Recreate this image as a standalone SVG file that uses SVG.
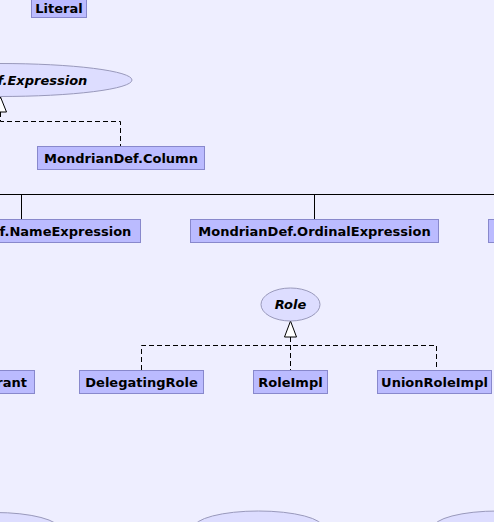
<svg xmlns="http://www.w3.org/2000/svg" width="494" height="522" viewBox="0 0 494 522">
<style>
.bg{fill:#EEEEFF}
.box{fill:#BBBBFF;stroke:#8888CC;stroke-width:1}
.ell{fill:#DDDDFF;stroke:#9999BB;stroke-width:1}
.t{font-family:"DejaVu Sans",sans-serif;font-weight:bold;font-size:13px;fill:#000;text-anchor:middle}
.ti{font-style:italic}
.solid{fill:none;stroke:#000;stroke-width:1}
.dash{fill:none;stroke:#000;stroke-width:1;stroke-dasharray:5,3}
.tri{fill:#FFFFFF;stroke:#000;stroke-width:1}
</style>
<rect class="bg" x="0" y="0" width="494" height="522"/>
<g id="connectors">
  <path class="dash" d="M0.5,112 V121.5 H120.5 V146"/>
  <polygon class="tri" points="0.5,97 -5.5,112 6.5,112"/>
  <path class="solid" d="M0,194.5 H494 M21.5,194.5 V219.5 M314.5,194.5 V219.5"/>
  <path class="dash" d="M290.5,337 V370 M141.5,370 V345.5 H436.5 V370"/>
  <polygon class="tri" points="290.5,321 284.5,337 296.5,337"/>
</g>
<g id="Literal">
  <rect class="box" x="31.5" y="-5.5" width="55" height="23"/>
  <text class="t" x="59" y="12.5" font-size="12.5">Literal</text>
</g>
<g id="MondrianDef.Expression">
  <ellipse class="ell" cx="0" cy="80" rx="132" ry="16.5"/>
  <text class="t ti" x="-2" y="85">MondrianDef.Expression</text>
</g>
<g id="MondrianDef.Column">
  <rect class="box" x="37.5" y="146.5" width="167" height="23"/>
  <text class="t" x="121" y="162.5">MondrianDef.Column</text>
</g>
<g id="MondrianDef.NameExpression">
  <rect class="box" x="-98.5" y="219.5" width="239" height="23"/>
  <text class="t" x="21" y="235.5">MondrianDef.NameExpression</text>
</g>
<g id="MondrianDef.OrdinalExpression">
  <rect class="box" x="190.5" y="219.5" width="248" height="23"/>
  <text class="t" x="314.5" y="235.5">MondrianDef.OrdinalExpression</text>
</g>
<g id="RightBox">
  <rect class="box" x="488.5" y="219.5" width="60" height="23"/>
</g>
<g id="Role">
  <ellipse class="ell" cx="290.5" cy="304.5" rx="29.5" ry="16.5"/>
  <text class="t ti" x="290.5" y="309">Role</text>
</g>
<g id="Grant">
  <rect class="box" x="-40.5" y="370.5" width="75" height="23"/>
  <text class="t" x="27" y="386.5" style="text-anchor:end">rant</text>
</g>
<g id="DelegatingRole">
  <rect class="box" x="79.5" y="370.5" width="124" height="23"/>
  <text class="t" x="141.5" y="386.5">DelegatingRole</text>
</g>
<g id="RoleImpl">
  <rect class="box" x="253.5" y="370.5" width="74" height="23"/>
  <text class="t" x="290.5" y="386.5">RoleImpl</text>
</g>
<g id="UnionRoleImpl">
  <rect class="box" x="377.5" y="370.5" width="114" height="23"/>
  <text class="t" x="434.5" y="386.5">UnionRoleImpl</text>
</g>
<g id="BottomLeft">
  <ellipse class="ell" cx="-5" cy="529.5" rx="65" ry="17"/>
</g>
<g id="BottomMiddle">
  <ellipse class="ell" cx="258.5" cy="528" rx="65" ry="17"/>
</g>
<g id="BottomRight">
  <ellipse class="ell" cx="498" cy="528" rx="65" ry="17"/>
</g>
</svg>
